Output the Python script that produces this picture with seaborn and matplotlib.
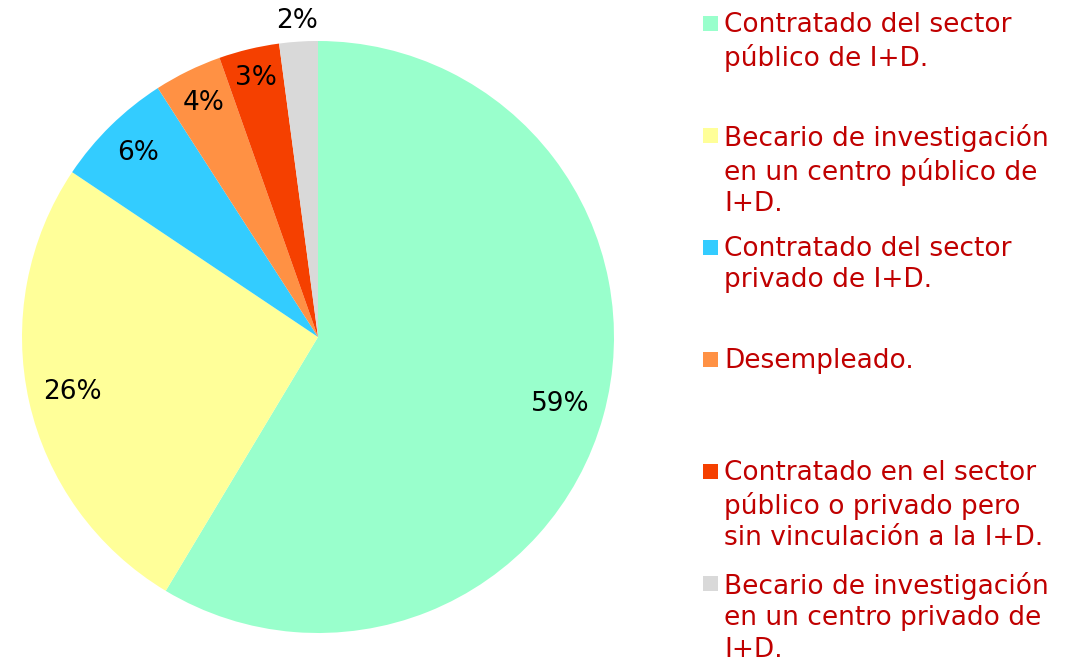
import matplotlib
matplotlib.use("Agg")
import matplotlib.pyplot as plt
import seaborn as sns
import numpy as np
from matplotlib.patches import Rectangle

sns.set_theme(style="white")
plt.rcParams['font.family'] = ['DejaVu Sans']

categories = [
    "Contratado del sector\npúblico de I+D.",
    "Becario de investigación\nen un centro público de\nI+D.",
    "Contratado del sector\nprivado de I+D.",
    "Desempleado.",
    "Contratado en el sector\npúblico o privado pero\nsin vinculación a la I+D.",
    "Becario de investigación\nen un centro privado de\nI+D.",
]
values = [58.6, 25.8, 6.5, 3.7, 3.3, 2.1]
pct_labels = ["59%", "26%", "6%", "4%", "3%", "2%"]
colors = ["#99FFCC", "#FFFF99", "#33CCFF", "#FF9144", "#F54000", "#D9D9D9"]
text_red = "#C00000"

W, H = 1068, 662
fig = plt.figure(figsize=(W / 100, H / 100), dpi=100)
cx, cy, R = 318, 337, 296
ax = fig.add_axes([(cx - R) / W, (H - cy - R) / H, 2 * R / W, 2 * R / H])

wedges, _ = ax.pie(values, colors=colors, startangle=90, counterclock=False,
                   radius=1, wedgeprops=dict(linewidth=0))
ax.set_xlim(-1, 1)
ax.set_ylim(-1, 1)
ax.set_aspect("equal")
ax.axis("off")

dists = [0.85, 0.85, 0.87, 0.88, 0.9, 1.07]
for w, lab, d in zip(wedges, pct_labels, dists):
    ang = np.deg2rad((w.theta1 + w.theta2) / 2)
    ax.text(d * np.cos(ang), d * np.sin(ang), lab, ha="center", va="center",
            fontsize=19, color="black")

# legend
sq = 15
for i, (lab, col) in enumerate(zip(categories, colors)):
    yc = 23 + 112 * i
    fig.patches.append(Rectangle((703 / W, (H - yc - sq / 2) / H), sq / W, sq / H,
                                 transform=fig.transFigure, facecolor=col,
                                 edgecolor="none"))
    fig.text(724 / W, (H - yc + 11) / H, lab, ha="left", va="top",
             fontsize=19, color=text_red, linespacing=1.27)

fig.savefig("out.png", dpi=100)
